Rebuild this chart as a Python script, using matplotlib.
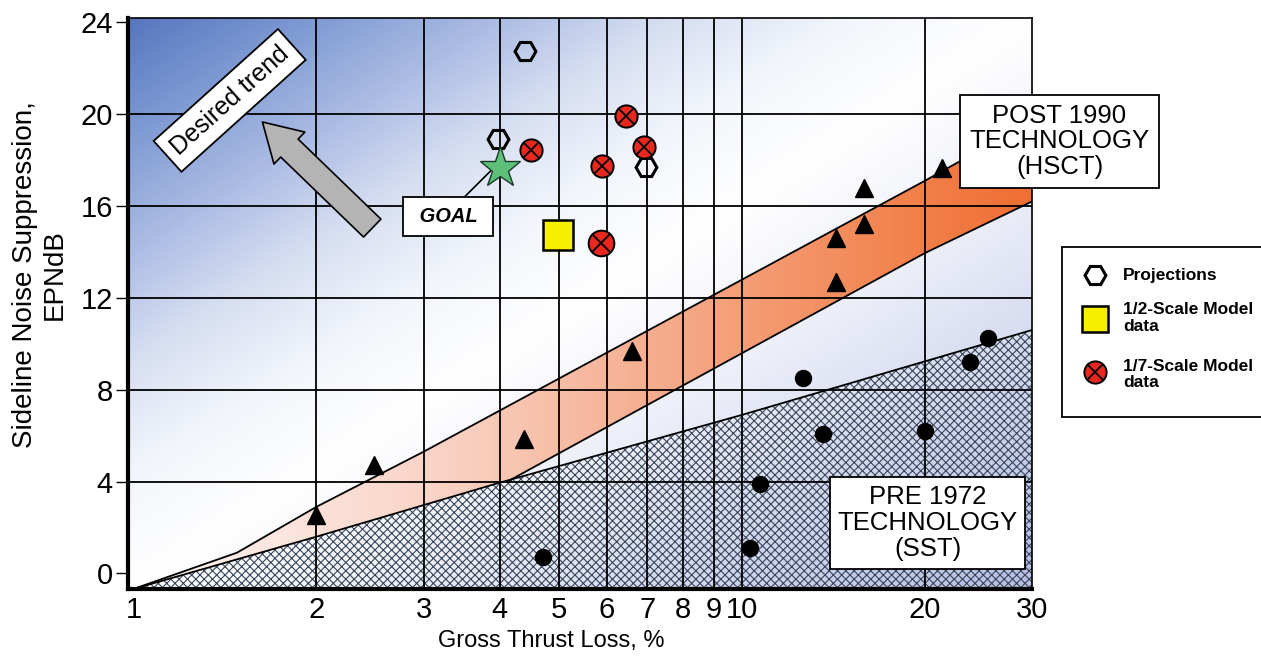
import numpy as np
import matplotlib.pyplot as plt
from matplotlib.colors import LinearSegmentedColormap
from matplotlib.patches import Polygon, FancyArrowPatch, Rectangle
from matplotlib.lines import Line2D
from matplotlib.ticker import FixedLocator, NullLocator

plt.rcParams['font.family'] = ['Liberation Sans', 'DejaVu Sans']
plt.rcParams['hatch.linewidth'] = 0.8

# axis ticks
x_ticks = [1, 2, 3, 4, 5, 6, 7, 8, 9, 10, 20, 30]
x_labels = ['1', '2', '3', '4', '5', '6', '7', '8', '9', '10', '20', '30']
y_ticks = [0, 4, 8, 12, 16, 20, 24]
x_grid = [2, 3, 4, 5, 6, 7, 8, 9, 10, 20]
y_grid = [4, 8, 12, 16, 20]

# PRE 1972 (SST) upper boundary
sst_x = [1.0, 2.0, 4.0, 10.0, 30.0]
sst_y = [-0.68, 1.6, 3.95, 6.9, 10.6]

# POST 1990 (HSCT) band
hsct_top_x = [1.0, 1.48, 2.0, 3.0, 20.0, 30.0]
hsct_top_y = [-0.68, 0.9, 2.9, 5.3, 17.1, 19.7]
hsct_low_x = [4.12, 20.0, 30.0]
hsct_low_y = [4.0, 13.95, 16.2]

# data points
tri_x = [2.0, 2.49, 4.38, 6.6, 14.3, 14.3, 15.9, 15.9, 21.3]
tri_y = [2.55, 4.7, 5.85, 9.7, 12.7, 14.6, 15.2, 16.8, 17.65]
dot_x = [4.72, 10.3, 10.7, 12.6, 13.6, 20.0, 23.7, 25.4]
dot_y = [0.7, 1.1, 3.9, 8.5, 6.05, 6.2, 9.2, 10.25]
proj_x = [4.41, 3.98, 6.97]
proj_y = [22.75, 18.9, 17.7]
half_x = [4.98]
half_y = [14.75]
sev_x = [4.5, 5.9, 6.46, 6.92, 5.86]
sev_y = [18.45, 17.75, 19.9, 18.55, 14.4]
sev_ms = [16, 16, 16, 16, 18.5]
goal_x = [4.0]
goal_y = [17.65]

RED = '#e8281e'
YELLOW = '#f5ef00'

fig = plt.figure(figsize=(12.61, 6.63), dpi=100)
ax = fig.add_axes([128 / 1261, 1 - 589 / 663, 904 / 1261, 571 / 663])
ax.set_xscale('log')
ax.set_xlim(0.98, 30)
ax.set_ylim(-0.68, 24.19)
ax.autoscale(False)

# background gradient (dark blue top-left, white diagonal, lavender bottom-right)
n = 400
gx, gy = np.meshgrid(np.linspace(0, 1, n), np.linspace(1, 0, n))
u = (gx - gy + 1) / 2
bg_cmap = LinearSegmentedColormap.from_list('bg', [
    (0.0, '#5676bf'), (0.12, '#86a0d6'), (0.22, '#b2c1e6'), (0.3, '#d6def1'),
    (0.4, '#f2f5fb'), (0.5, '#ffffff'), (0.65, '#eceef8'), (0.8, '#d2d8ef'), (1.0, '#b6bfe4')])
ax.imshow(u, cmap=bg_cmap, extent=[0, 1, 0, 1], transform=ax.transAxes,
          aspect='auto', zorder=0, interpolation='bilinear')

# hatched SST region
ax.fill_between(sst_x, sst_y, -0.68, facecolor='none', edgecolor='#3a4658',
                hatch='xxxx', linewidth=0, zorder=1.1)

# HSCT band with horizontal gradient
low_part = [(x, y) for x, y in zip(sst_x, sst_y) if x < hsct_low_x[0]]
verts = list(zip(hsct_top_x, hsct_top_y)) + list(zip(hsct_low_x[::-1], hsct_low_y[::-1])) + low_part[::-1]
band = Polygon(verts, closed=True, facecolor='none', edgecolor='none')
ax.add_patch(band)
band_cmap = LinearSegmentedColormap.from_list('band', [
    (0.0, '#fff8f6'), (0.35, '#f9d2c4'), (0.6, '#f5aa8a'), (0.85, '#f2844f'), (1.0, '#ef6e33')])
grad = ax.imshow(np.linspace(0, 1, 256)[None, :], cmap=band_cmap, extent=[0, 1, 0, 1],
                 transform=ax.transAxes, aspect='auto', zorder=1.2)
grad.set_clip_path(band)

ax.plot(sst_x, sst_y, color='k', lw=1.3, zorder=2)
ax.plot(hsct_top_x, hsct_top_y, color='k', lw=1.3, zorder=2)
ax.plot(hsct_low_x, hsct_low_y, color='k', lw=1.3, zorder=2)

# grid
for g in x_grid:
    ax.axvline(g, color='k', lw=1.3, zorder=2.5)
for g in y_grid:
    ax.axhline(g, color='k', lw=1.3, zorder=2.5)

# markers
ax.plot(tri_x, tri_y, '^', color='k', ms=13, zorder=4)
ax.plot(dot_x, dot_y, 'o', color='k', ms=11.5, zorder=4)
ax.plot(proj_x, proj_y, 'H', mfc='none', mec='k', mew=2.2, ms=15, zorder=4)
ax.plot(half_x, half_y, 's', mfc=YELLOW, mec='k', mew=1.8, ms=21, zorder=4)
for x, y, m in zip(sev_x, sev_y, sev_ms):
    ax.plot([x], [y], 'o', mfc=RED, mec='k', mew=1.4, ms=m, zorder=4)
    ax.plot([x], [y], 'x', color='k', mew=1.3, ms=m * 0.68, zorder=4.1)
ax.plot(goal_x, goal_y, '*', mfc='#5cbf7a', mec='#1c3a24', mew=1.0, ms=31, zorder=4.5)

# GOAL label
ax.plot([3.50, 3.88], [16.39, 17.57], color='k', lw=1.2, zorder=4.4)
ax.text(3.29, 15.54, ' GOAL ', fontsize=14.5, fontweight='bold', fontstyle='italic',
        ha='center', va='center', zorder=6,
        bbox=dict(boxstyle='square,pad=0.5', fc='white', ec='k', lw=1.3))

# Desired trend arrow + label
arr = FancyArrowPatch((2.47, 15.04), (1.63, 19.66),
                      arrowstyle='simple,head_length=27,head_width=32,tail_width=18',
                      mutation_scale=1, shrinkA=0, shrinkB=0,
                      fc='#b4b4b4', ec='k', lw=1.2, zorder=5)
ax.add_patch(arr)
ax.text(1.44, 20.6, 'Desired trend', fontsize=18, rotation=42, rotation_mode='anchor',
        ha='center', va='center', zorder=6,
        bbox=dict(boxstyle='square,pad=0.35', fc='white', ec='k', lw=1.3))

# technology boxes
fig.text(1059.5 / 1261, 1 - 141.5 / 663, 'POST 1990\nTECHNOLOGY\n(HSCT)', fontsize=18.5,
         ha='center', va='center', multialignment='center', linespacing=1.08, zorder=6,
         bbox=dict(boxstyle='square,pad=0.36', fc='white', ec='k', lw=1.3))
fig.text(927.5 / 1261, 1 - 523 / 663, 'PRE 1972\nTECHNOLOGY\n(SST)', fontsize=18.5,
         ha='center', va='center', multialignment='center', linespacing=1.1, zorder=6,
         bbox=dict(boxstyle='square,pad=0.3', fc='white', ec='k', lw=1.3))

# axes styling
ax.xaxis.set_major_locator(FixedLocator(x_ticks))
ax.xaxis.set_minor_locator(NullLocator())
ax.set_xticklabels(x_labels)
ax.set_yticks(y_ticks)
ax.tick_params(axis='x', length=0, pad=5, labelsize=21)
ax.tick_params(axis='y', length=9, width=1, pad=2, labelsize=21)
for side in ['left', 'bottom']:
    ax.spines[side].set_linewidth(3)
for side in ['top', 'right']:
    ax.spines[side].set_linewidth(1.2)

fig.text(551 / 1261, 1 - 641 / 663, 'Gross Thrust Loss, %', fontsize=17, ha='center', va='center')
fig.text(40 / 1261, 1 - 275 / 663, 'Sideline Noise Suppression,\nEPNdB', fontsize=20,
         rotation=90, ha='center', va='center', multialignment='center', linespacing=1.15)

# legend box
fig.add_artist(Rectangle((1062 / 1261, 1 - 417 / 663), 0.2, 170 / 663, transform=fig.transFigure,
                         fc='white', ec='k', lw=1.3))
lx = 1095 / 1261
tx = 1123 / 1261
fig.add_artist(Line2D([lx], [1 - 275 / 663], transform=fig.transFigure, marker='H',
                      mfc='none', mec='k', mew=2.2, ms=15))
fig.add_artist(Line2D([lx], [1 - 319 / 663], transform=fig.transFigure, marker='s',
                      mfc=YELLOW, mec='k', mew=1.8, ms=19))
fig.add_artist(Line2D([lx], [1 - 372 / 663], transform=fig.transFigure, marker='o',
                      mfc=RED, mec='k', mew=1.4, ms=16))
fig.add_artist(Line2D([lx], [1 - 372 / 663], transform=fig.transFigure, marker='x',
                      color='k', mew=1.3, ms=11))
fig.text(tx, 1 - 275 / 663, 'Projections', fontsize=12.5, fontweight='bold', va='center')
fig.text(tx, 1 - 318 / 663, '1/2-Scale Model\ndata', fontsize=12.5, fontweight='bold',
         va='center', linespacing=1.15)
fig.text(tx, 1 - 374.5 / 663, '1/7-Scale Model\ndata', fontsize=12.5, fontweight='bold',
         va='center', linespacing=1.15)

fig.savefig('out.png', dpi=100)
